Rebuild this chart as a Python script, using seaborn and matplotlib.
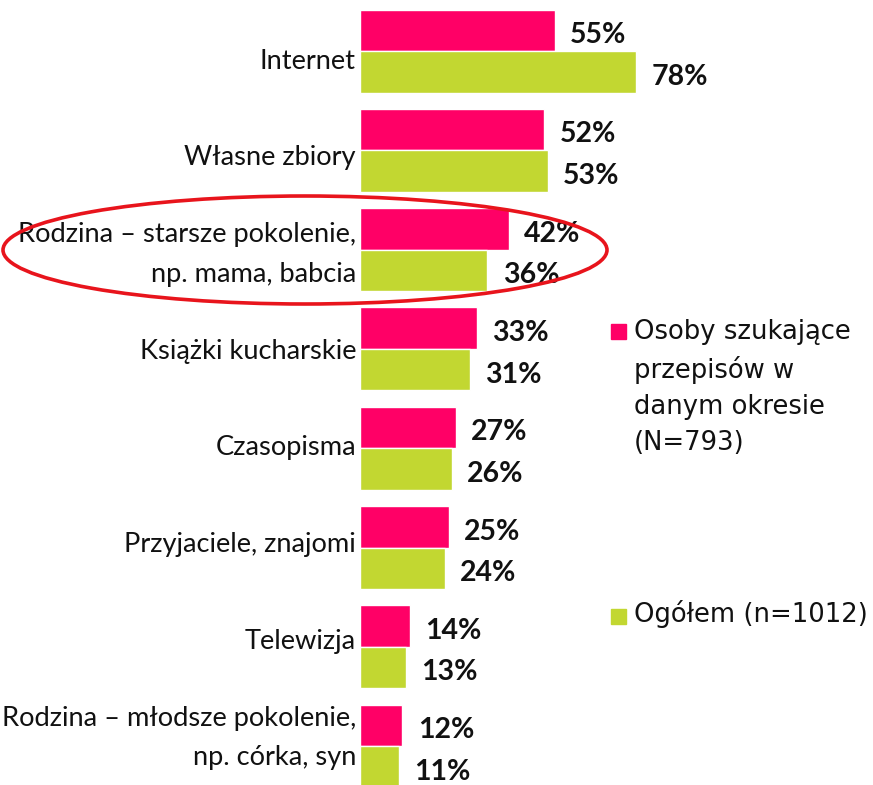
import matplotlib
matplotlib.use("Agg")
import matplotlib.pyplot as plt
import matplotlib.transforms as mtransforms
from matplotlib.patches import Ellipse, Rectangle
import seaborn as sns
import pandas as pd

categories = [
    "Internet",
    "Własne zbiory",
    "Rodzina – starsze pokolenie,\nnp. mama, babcia",
    "Książki kucharskie",
    "Czasopisma",
    "Przyjaciele, znajomi",
    "Telewizja",
    "Rodzina – młodsze pokolenie,\nnp. córka, syn",
]
series_names = ["Osoby szukające\nprzepisów w\ndanym okresie\n(N=793)", "Ogółem (n=1012)"]
seekers = [55, 52, 42, 33, 27, 25, 14, 12]
overall = [78, 53, 36, 31, 26, 24, 13, 11]
colors = ["#FF0066", "#C2D731"]

df = pd.DataFrame({
    "cat": categories * 2,
    "val": seekers + overall,
    "series": [series_names[0]] * len(categories) + [series_names[1]] * len(categories),
})

sns.set_theme(style="white")
plt.rcParams["font.family"] = ["DejaVu Sans"]

W, H = 873, 785
fig = plt.figure(figsize=(W / 100, H / 100), dpi=100)
top_px, step = 1.4, 99.3
ax_h = step * len(categories)
ax = fig.add_axes([360 / W, 1 - (top_px + ax_h) / H, 354 / W, ax_h / H])

sns.barplot(data=df, x="val", y="cat", hue="series", order=categories,
            hue_order=series_names, palette=colors, width=0.835,
            saturation=1, ax=ax, legend=False, orient="h")
ax.set_xlim(0, 100)
ax.set_ylim(len(categories) - 0.5, -0.5)
for s in ax.spines.values():
    s.set_visible(False)
ax.set_xticks([])
ax.set_yticks([])
ax.set_xlabel("")
ax.set_ylabel("")

# category labels at category positions, right-aligned left of the axis
# (label column is slightly more compact than the bar column, as in the original)
trans = mtransforms.blended_transform_factory(ax.transAxes, ax.transData)
for i, lab in enumerate(categories):
    down_px = 10 - 2.6 * i
    off = mtransforms.ScaledTranslation(-4 / 100, -down_px / 100, fig.dpi_scale_trans)
    ax.text(0, i, lab, transform=trans + off, ha="right", va="center",
            multialignment="right", fontsize=19.6, family="Lato",
            linespacing=1.72, color="#111111", clip_on=False)

for container, vals in zip(ax.containers, [seekers, overall]):
    for bar, v in zip(container, vals):
        y = bar.get_y() + bar.get_height() / 2
        ax.annotate(f"{v}%", (bar.get_width(), y), xytext=(11, -3.5),
                    textcoords="offset points", ha="left", va="center",
                    fontsize=20.5, fontweight="bold", family="Lato",
                    color="#111111", annotation_clip=False)

# legend (manual)
fig.patches.append(Rectangle((611 / W, 1 - 339 / H), 15 / W, 15 / H,
                             transform=fig.transFigure, color=colors[0]))
fig.patches.append(Rectangle((611 / W, 1 - 624 / H), 15 / W, 15 / H,
                             transform=fig.transFigure, color=colors[1]))
fig.text(634 / W, 1 - 319 / H, series_names[0], ha="left", va="top",
         fontsize=18.6, linespacing=1.5, color="#111111")
fig.text(634 / W, 1 - 614 / H, series_names[1], ha="left", va="center",
         fontsize=18.6, color="#111111")

# highlight ellipse
fig.patches.append(Ellipse((305 / W, 1 - 250 / H), 604 / W, 108 / H,
                           transform=fig.transFigure, fill=False,
                           edgecolor="#E8141C", linewidth=2.6))

fig.savefig("out.png", dpi=100)
